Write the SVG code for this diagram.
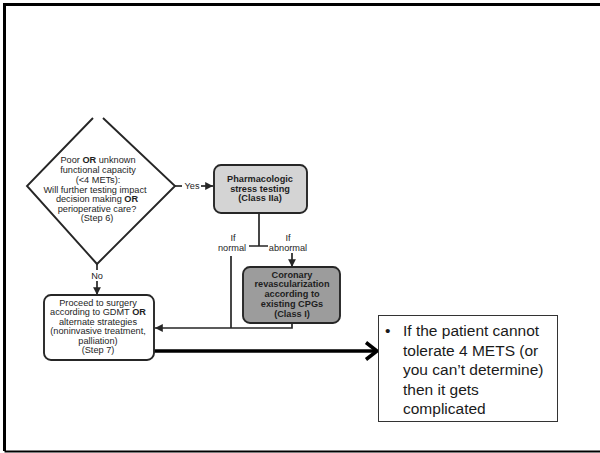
<svg xmlns="http://www.w3.org/2000/svg" width="600" height="453" viewBox="0 0 600 453">
  <defs>
    <style>
      .frame { fill: none; stroke: #000; }
      .fc { font-family: "Liberation Sans", Arial, sans-serif; font-size: 9.2px; fill: #1e1e1e; text-anchor: middle; }
      .b { font-weight: bold; }
      .edge { fill: none; stroke: #262626; stroke-width: 1.7; }
      .node { stroke: #262626; stroke-width: 1.9; }
      .note { font-family: "Liberation Sans", Arial, sans-serif; font-size: 15.5px; fill: #1a1a1a; }
    </style>
    <marker id="tri" viewBox="0 0 10 10" refX="10" refY="5" markerWidth="4.6" markerHeight="4.6" orient="auto" markerUnits="strokeWidth">
      <path d="M0,0 L10,5 L0,10 Z" fill="#262626"/>
    </marker>
  </defs>

  <rect width="600" height="453" fill="#fff"/>

  <!-- slide frame -->
  <path class="frame" d="M605,4.5 H4.5 V451" stroke-width="3"/>
  <path class="frame" d="M4.5,451.5 H605" stroke-width="2"/>

  <!-- connectors -->
  <g id="connectors">
    <!-- Yes -->
    <path class="edge" d="M175,186 H182"/>
    <path class="edge" d="M201,186 H213" marker-end="url(#tri)"/>
    <text class="fc" x="192" y="189">Yes</text>
    <!-- No -->
    <path class="edge" d="M97,264 V270"/>
    <path class="edge" d="M97,281 V295" marker-end="url(#tri)"/>
    <text class="fc" x="97" y="279">No</text>
    <!-- result split -->
    <path class="edge" d="M259,213 V246 M249,246 H268"/>
    <text class="fc" x="233" y="241">If</text>
    <text class="fc" x="232" y="251">normal</text>
    <text class="fc" x="288" y="241">If</text>
    <text class="fc" x="288" y="251">abnormal</text>
    <path class="edge" d="M292,253 V267" marker-end="url(#tri)"/>
    <!-- back to step 7 -->
    <path class="edge" d="M231,256 V328"/>
    <path class="edge" d="M292,323 V328 H155" marker-end="url(#tri)"/>
    <!-- heavy arrow to note -->
    <path d="M154,351 H376" fill="none" stroke="#000" stroke-width="3.5"/>
    <path d="M366,342.5 L377,351 L366,359.5" fill="none" stroke="#000" stroke-width="3.5" stroke-linejoin="miter"/>
  </g>

  <!-- decision: step 6 -->
  <g id="step6">
    <path d="M93,118 L27,186 L97,264 L175,186 L103,118" fill="#fff" class="node"/>
    <text class="fc" x="98" y="163">Poor <tspan class="b">OR</tspan> unknown</text>
    <text class="fc" x="98" y="173">functional capacity</text>
    <text class="fc" x="98" y="183">(&lt;4 METs):</text>
    <text class="fc" x="95" y="193">Will further testing impact</text>
    <text class="fc" x="97" y="202">decision making <tspan class="b">OR</tspan></text>
    <text class="fc" x="97" y="212">perioperative care?</text>
    <text class="fc" x="97" y="221">(Step 6)</text>
  </g>

  <!-- pharmacologic stress testing -->
  <g id="stress">
    <rect x="214" y="165" width="93" height="48" rx="7" fill="#d4d4d4" class="node"/>
    <text class="fc b" x="260" y="182">Pharmacologic</text>
    <text class="fc b" x="260" y="192">stress testing</text>
    <text class="fc b" x="260" y="201">(Class IIa)</text>
  </g>

  <!-- coronary revascularization -->
  <g id="revasc">
    <rect x="243" y="267" width="97" height="56" rx="7" fill="#9c9c9c" class="node"/>
    <text class="fc b" x="292" y="278">Coronary</text>
    <text class="fc b" x="292" y="287">revascularization</text>
    <text class="fc b" x="292" y="297">according to</text>
    <text class="fc b" x="292" y="307">existing CPGs</text>
    <text class="fc b" x="292" y="317">(Class I)</text>
  </g>

  <!-- step 7 -->
  <g id="step7">
    <rect x="44" y="295" width="110" height="65" rx="7" fill="#fff" class="node"/>
    <text class="fc" x="98" y="306">Proceed to surgery</text>
    <text class="fc" x="98" y="315">according to GDMT <tspan class="b">OR</tspan></text>
    <text class="fc" x="98" y="325">alternate strategies</text>
    <text class="fc" x="98" y="334">(noninvasive treatment,</text>
    <text class="fc" x="98" y="344">palliation)</text>
    <text class="fc" x="98" y="353">(Step 7)</text>
  </g>

  <!-- note -->
  <g id="note">
    <rect x="378.5" y="315.5" width="179" height="106" fill="#fff" stroke="#333" stroke-width="1"/>
    <text class="note" x="385" y="336">•</text>
    <text class="note" x="403" y="336">If the patient cannot</text>
    <text class="note" x="403" y="355.6">tolerate 4 METS (or</text>
    <text class="note" x="403" y="375.2">you can’t determine)</text>
    <text class="note" x="403" y="394.8">then it gets</text>
    <text class="note" x="403" y="414.4">complicated</text>
  </g>
</svg>
